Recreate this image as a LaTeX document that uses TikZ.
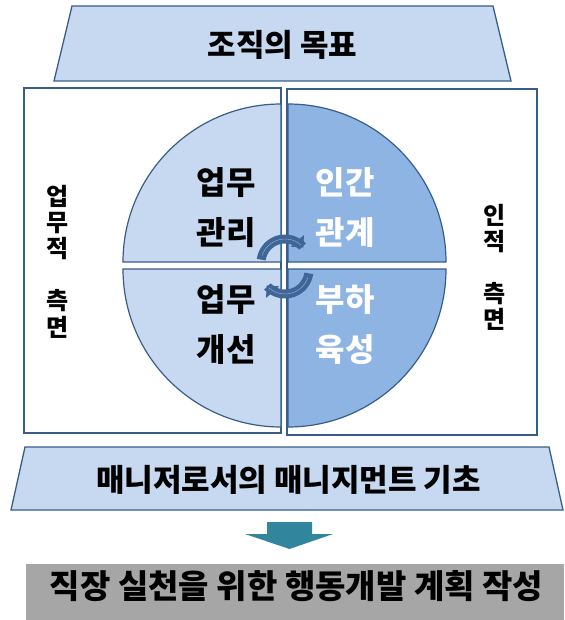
\documentclass[tikz,border=0pt]{standalone}
\usepackage{fontspec}
\newfontfamily\kr{Noto Sans CJK KR}
\usetikzlibrary{arrows.meta}
\definecolor{lb}{HTML}{C6D9F1}
\definecolor{db}{HTML}{8EB4E3}
\definecolor{ol}{HTML}{385D8A}
\definecolor{arrowc}{HTML}{31859C}
\definecolor{gr}{HTML}{A6A6A6}
\definecolor{arcc}{HTML}{3E6698}
\begin{document}
\begin{tikzpicture}[x=1pt,y=-1pt,
  trap/.style={fill=lb,draw=ol,line width=1.3pt,line join=miter},
  panel/.style={fill=white,draw=ol,line width=1.6pt},
  quadL/.style={fill=lb,draw=ol,line width=1.2pt},
  quadR/.style={fill=db,draw=ol,line width=1.2pt},
  arcarrow/.style={draw=arcc,line width=9pt,-{Triangle[width=17pt,length=9pt]}},
  hl/.style={draw=arcc!55!white,line width=0.5pt},
  qtext/.style={font=\kr\bfseries\fontsize{32}{50}\selectfont,align=center,inner sep=0pt},
  vtext/.style={font=\kr\bfseries\fontsize{24}{26.3}\selectfont,align=center,inner sep=0pt},
  bigtext/.style={font=\kr\bfseries\fontsize{31}{34}\selectfont,inner sep=0pt}]
\useasboundingbox (0,0) rectangle (564,620);
% top trapezoid
\filldraw[trap] (72,6) -- (493,6) -- (511,81) -- (54,81) -- cycle;
\node[bigtext] (goal) at (282.5,45) {조직의 목표};
% side panels
\draw[panel] (24,88) rectangle (281,433);
\draw[panel] (287,89) rectangle (537,435);
% quadrants
\filldraw[quadL] (281,262) -- (123,262) arc[start angle=180,end angle=270,radius=158] -- cycle;
\filldraw[quadR] (288,262) -- (288,104) arc[start angle=270,end angle=360,radius=158] -- cycle;
\filldraw[quadL] (281,269) -- (123,269) arc[start angle=180,end angle=90,radius=158] -- cycle;
\filldraw[quadR] (288,269) -- (446,269) arc[start angle=0,end angle=90,radius=158] -- cycle;
% cycle arrows
\draw[arcarrow] plot[domain=172:40,samples=40] ({285+24*cos(\x)},{263-24*sin(\x)});
\draw[hl] plot[domain=162:48,samples=40] ({285+24*cos(\x)},{263-24*sin(\x)});
\draw[arcarrow] plot[domain=-8:-140,samples=40] ({285+24*cos(\x)},{270-24*sin(\x)});
\draw[hl] plot[domain=-18:-132,samples=40] ({285+24*cos(\x)},{270-24*sin(\x)});
% quadrant texts
\node[qtext] (q1) at (226,208) {업무\\관리};
\node[qtext,text=white] (q2) at (345,208) {인간\\관계};
\node[qtext] (q3) at (226,325) {업무\\개선};
\node[qtext,text=white] (q4) at (345,325) {부하\\육성};
% vertical texts
\node[vtext] (vl) at (58,261.5) {업\\무\\적\\[26pt]측\\면};
\node[vtext] (vr) at (495,267.5) {인\\적\\[25pt]측\\면};
% bottom trapezoid
\filldraw[trap] (25,447) -- (549,447) -- (563,510) -- (11,510) -- cycle;
\node[bigtext] (base) at (288.5,480) {매니저로서의 매니지먼트 기초};
% down arrow
\fill[arrowc] (267,522) -- (312,522) -- (312,534) -- (333,534) -- (289.5,549) -- (245,534) -- (267,534) -- cycle;
% gray result box
\fill[gr] (26,564) rectangle (564,620);
\node[bigtext,font=\kr\bfseries\fontsize{33}{36}\selectfont] (plan) at (296.5,586) {직장 실천을 위한 행동개발 계획 작성};
\end{tikzpicture}
\end{document}
